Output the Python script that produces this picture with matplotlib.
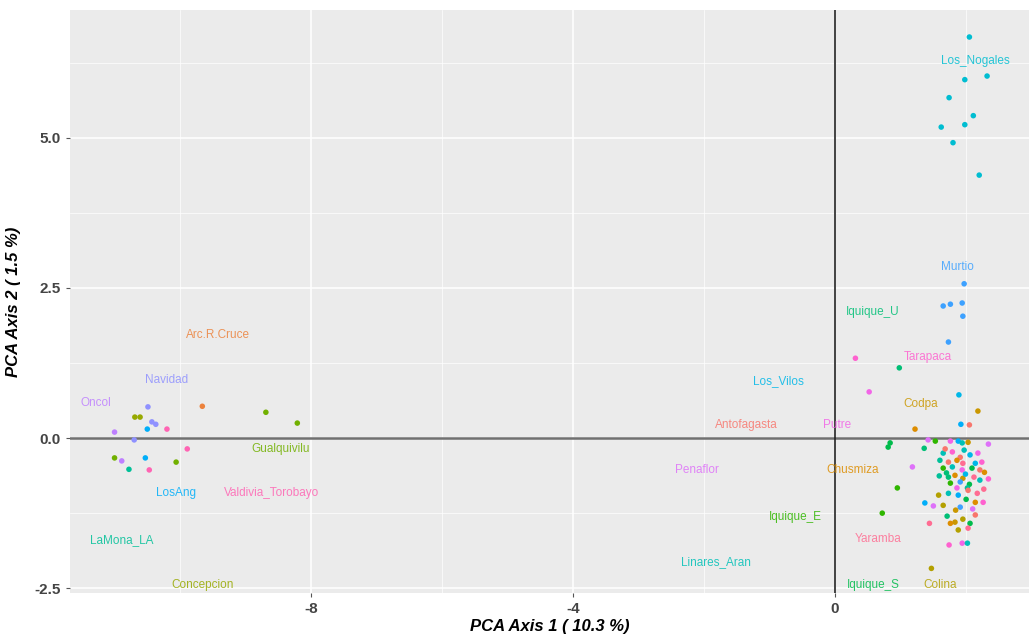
import numpy as np
import matplotlib
matplotlib.use("Agg")
import matplotlib.pyplot as plt

# localidades (orden alfabetico, como los niveles del factor)
grupos = ["Antofagasta", "Arc.R.Cruce", "Chusmiza", "Codpa", "Colina", "Concepcion",
          "Gualquivilu", "Iquique_E", "Iquique_S", "Iquique_U", "LaMona_LA",
          "Linares_Aran", "Los_Nogales", "Los_Vilos", "LosAng", "Murtio", "Navidad",
          "Oncol", "Penaflor", "Putre", "Tarapaca", "Valdivia_Torobayo", "Yaramba"]

# posicion de las etiquetas de cada localidad
etq_x = [-1.36, -9.42, 0.26, 1.30, 1.60, -9.65, -8.46, -0.60, 0.58, 0.58, -10.89,
         -1.82, 2.14, -0.87, -10.06, 1.86, -10.21, -11.28, -2.11, 0.03, 1.42, -8.61, 0.66]
etq_y = [0.22, 1.72, -0.53, 0.57, -2.45, -2.45, -0.18, -1.32, -2.45, 2.10, -1.70,
         -2.07, 6.28, 0.95, -0.92, 2.85, 0.97, 0.58, -0.53, 0.22, 1.35, -0.92, -1.68]

# individuos: eje 1, eje 2, localidad
pc1 = [2.05, 1.98, 2.32, 1.74, 2.11, 1.98, 1.62, 1.80, 2.20,
       1.97, 1.65, 1.76, 1.94, 1.95, 1.73,
       0.31, 0.98, 0.52, 1.89, 2.18, 1.92, 2.05, 1.22,
       0.84, 0.81, 1.42, 1.53, 1.76, 1.88, 1.94, 2.03, 2.34, 1.36,
       1.65, 1.79, 1.91, 2.06, 2.18, 1.60, 1.73, 1.86, 1.95, 2.14, 2.24,
       1.18, 1.65, 1.79, 1.94, 2.09, 2.21, 1.59, 1.73, 1.83, 1.95, 2.12, 2.21, 2.34,
       1.76, 1.91, 2.05, 0.95, 1.86, 2.02, 1.73, 1.88, 2.03, 2.17,
       0.72, 1.37, 1.50, 1.65, 1.91, 2.14, 2.26, 1.71, 1.83, 1.76, 1.95, 2.06, 2.14,
       1.44, 1.88, 2.03, 1.74, 1.94, 2.02, 1.47,
       1.70, 1.99, 2.27, 1.58, 2.00, 1.84, 2.10, 1.68, 1.97, 2.28,
       -9.66, -10.49, -10.43, -10.37, -10.70, -8.69, -8.21, -10.69, -10.61,
       -10.06, -11.00, -10.50, -10.53, -10.20, -9.89, -10.47, -11.00, -10.89, -10.78]
pc2 = [6.68, 5.97, 6.03, 5.67, 5.37, 5.22, 5.18, 4.92, 4.38,
       2.57, 2.20, 2.23, 2.25, 2.03, 1.60,
       1.33, 1.17, 0.77, 0.72, 0.45, 0.23, 0.22, 0.15,
       -0.08, -0.15, -0.03, -0.05, -0.05, -0.05, -0.08, -0.07, -0.10, -0.17,
       -0.25, -0.23, -0.32, -0.28, -0.25, -0.37, -0.40, -0.37, -0.42, -0.42, -0.40,
       -0.48, -0.50, -0.48, -0.53, -0.50, -0.53, -0.63, -0.65, -0.62, -0.67, -0.65, -0.70, -0.68,
       -0.75, -0.73, -0.77, -0.83, -0.83, -0.83, -0.92, -0.95, -0.87, -0.92,
       -1.25, -1.08, -1.13, -1.12, -1.15, -1.07, -1.07, -1.30, -1.40, -1.42, -1.35, -1.42, -1.28,
       -1.42, -1.53, -1.50, -1.78, -1.75, -1.75, -2.17,
       -0.58, -0.60, -0.85, -0.95, -1.02, -1.20, -1.18, -0.18, -0.20, -0.57,
       0.53, 0.52, 0.27, 0.23, -0.03, 0.43, 0.25, 0.35, 0.35,
       -0.40, -0.33, 0.15, -0.33, 0.15, -0.18, -0.53, 0.10, -0.38, -0.52]
loc = ["Los_Nogales"] * 9 + ["Murtio"] * 6 + \
      ["Tarapaca", "Iquique_U", "Putre", "Los_Vilos", "Codpa", "LosAng", "Antofagasta", "Chusmiza",
       "Iquique_S", "Iquique_S", "Penaflor", "Iquique_E", "Putre", "LosAng", "Linares_Aran", "Codpa",
       "Penaflor", "Iquique_U",
       "Linares_Aran", "Tarapaca", "Antofagasta", "Los_Vilos", "Putre", "LaMona_LA", "Antofagasta",
       "Chusmiza", "Yaramba", "Los_Vilos", "Tarapaca",
       "Penaflor", "Iquique_E", "Linares_Aran", "Putre", "Iquique_S", "Antofagasta", "LaMona_LA",
       "Iquique_U", "Chusmiza", "Codpa", "Yaramba", "Linares_Aran", "Tarapaca",
       "Iquique_E", "Murtio", "Iquique_S", "Iquique_E", "Putre", "LaMona_LA", "Linares_Aran",
       "LosAng", "Antofagasta", "Yaramba",
       "Iquique_E", "LosAng", "Penaflor", "Colina", "Murtio", "Chusmiza", "Tarapaca", "Iquique_U",
       "Codpa", "Chusmiza", "Colina", "Iquique_S", "Antofagasta",
       "Yaramba", "Colina", "Yaramba", "Tarapaca", "Putre", "Linares_Aran", "Colina",
       "Iquique_U", "Los_Vilos", "Yaramba", "Colina", "Iquique_S", "Codpa", "Penaflor",
       "Antofagasta", "Linares_Aran", "Chusmiza",
       "Arc.R.Cruce", "Navidad", "Navidad", "Navidad", "Navidad", "Gualquivilu", "Gualquivilu",
       "Concepcion", "Concepcion", "Gualquivilu", "Gualquivilu", "LosAng", "LosAng",
       "Valdivia_Torobayo", "Valdivia_Torobayo", "Valdivia_Torobayo", "Oncol", "Oncol", "LaMona_LA"]


def hue_pal(n, l=65, c=100):
    # paleta por defecto de ggplot (hcl -> sRGB)
    h = np.deg2rad(np.linspace(15, 375, n + 1)[:n])
    u = c * np.cos(h)
    v = c * np.sin(h)
    un, vn = 0.19784, 0.46834
    Y = ((l + 16) / 116) ** 3
    up = u / (13 * l) + un
    vp = v / (13 * l) + vn
    X = 9 * Y * up / (4 * vp)
    Z = Y * (12 - 3 * up - 20 * vp) / (4 * vp)
    M = np.array([[3.2406, -1.5372, -0.4986],
                  [-0.9689, 1.8758, 0.0415],
                  [0.0557, -0.2040, 1.0570]])
    rgb = M @ np.vstack([X, Y * np.ones(n), Z])
    rgb = np.where(rgb <= 0.0031308, 12.92 * rgb, 1.055 * np.abs(rgb) ** (1 / 2.4) - 0.055)
    return np.clip(rgb.T, 0, 1)


colores = hue_pal(len(grupos))
col = {g: colores[i] for i, g in enumerate(grupos)}

plt.rcParams['font.family'] = ['Liberation Sans', 'DejaVu Sans']
plt.rcParams['axes.unicode_minus'] = False

fig = plt.figure(figsize=(10.29, 6.42), dpi=100)
ax = fig.add_axes([70 / 1029, 1 - 593 / 642, 1 - 70 / 1029, 583 / 642])
ax.set_facecolor("#EBEBEB")

ax.set_xlim(-11.68, 2.96)
ax.set_ylim(-2.58, 7.13)

ax.set_xticks([-8, -4, 0])
ax.set_yticks([-2.5, 0, 2.5, 5])
ax.set_yticklabels(["-2.5", "0.0", "2.5", "5.0"])
ax.set_xticks([-10, -6, -2, 2], minor=True)
ax.set_yticks([-1.25, 1.25, 3.75, 6.25], minor=True)
ax.grid(True, which="major", color="white", linewidth=1.1)
ax.grid(True, which="minor", color="white", linewidth=0.5)
ax.set_axisbelow(True)
for s in ax.spines.values():
    s.set_visible(False)
ax.tick_params(which="major", length=3, color="#555555", labelsize=11, labelcolor="#444444")
ax.tick_params(which="minor", length=0)
for t in ax.get_xticklabels() + ax.get_yticklabels():
    t.set_fontweight("bold")

ax.axhline(0, color="#707070", linewidth=1.8, zorder=1)
ax.axvline(0, color="#222222", linewidth=1.2, zorder=1)

ax.scatter(pc1, pc2, c=[col[g] for g in loc], s=16, linewidths=0, zorder=3)

for i, g in enumerate(grupos):
    ax.text(etq_x[i], etq_y[i], g, color=col[g], fontsize=8.5, ha="center", va="center",
            alpha=0.85, zorder=4)

ax.set_xlabel("PCA Axis 1 ( 10.3 %)", fontsize=12, fontweight="bold", style="italic", labelpad=2)
ax.set_ylabel("PCA Axis 2 ( 1.5 %)", fontsize=12, fontweight="bold", style="italic", labelpad=10)

fig.savefig("out.png", dpi=100)
